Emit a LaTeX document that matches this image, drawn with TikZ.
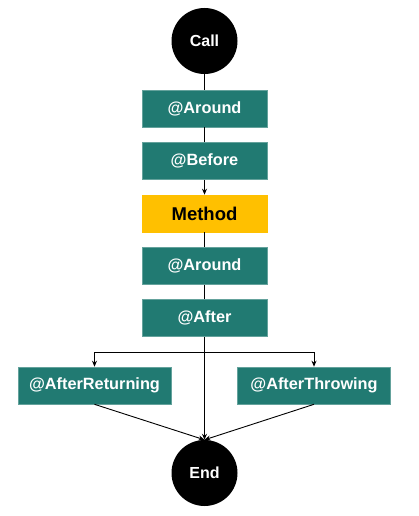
\documentclass[tikz,border=0pt]{standalone}
\usepackage{fontspec}
\setmainfont{Liberation Sans}
\usetikzlibrary{arrows.meta}
\definecolor{teal1}{HTML}{217A72}
\definecolor{gold1}{HTML}{FFC000}
\tikzset{
  box/.style={rectangle, fill=teal1, draw=teal1!70!white, line width=0.6pt, minimum width=125pt, minimum height=37pt, inner sep=0pt, text=white, font=\fontsize{16.3}{19}\selectfont\bfseries},
  widebox/.style={box, minimum width=153pt},
  methodbox/.style={box, fill=gold1, draw=gold1, text=black, font=\fontsize{18.5}{21}\selectfont\bfseries},
  term/.style={circle, fill=black, minimum size=66pt, inner sep=0pt, text=white, font=\fontsize{16}{19}\selectfont\bfseries},
  conn/.style={draw=black, line width=0.9pt},
  arr/.style={conn, -{Stealth[length=6pt,width=5pt]}}
}
\begin{document}
\begin{tikzpicture}[x=1pt,y=-1pt]
\useasboundingbox[fill=white] (0,0) rectangle (419,516);
\node[term] (call) at (204.5,41) {Call};
\node[box] (around1) at (204.5,108.5) {@Around};
\node[box] (before) at (204.5,161) {@Before};
\node[methodbox] (method) at (204.5,213.5) {Method};
\node[box] (around2) at (204.5,266) {@Around};
\node[box] (after) at (204.5,318) {@After};
\node[widebox] (afterret) at (94.5,385.5) {@AfterReturning};
\node[widebox] (afterthr) at (314,385.5) {@AfterThrowing};
\node[term] (end) at (204.5,473) {End};
\coordinate (br) at (204.5,352);
\draw[conn] (call) -- (around1);
\draw[conn] (around1) -- (before);
\draw[arr] (before) -- (method);
\draw[conn] (method) -- (around2);
\draw[conn] (around2) -- (after);
\draw[arr] (after) -- (end.north);
\draw[arr] (br) -| (afterret.north);
\draw[arr] (br) -| (afterthr.north);
\draw[arr] (afterret.south) -- (end.north);
\draw[arr] (afterthr.south) -- (end.north);
\end{tikzpicture}
\end{document}
